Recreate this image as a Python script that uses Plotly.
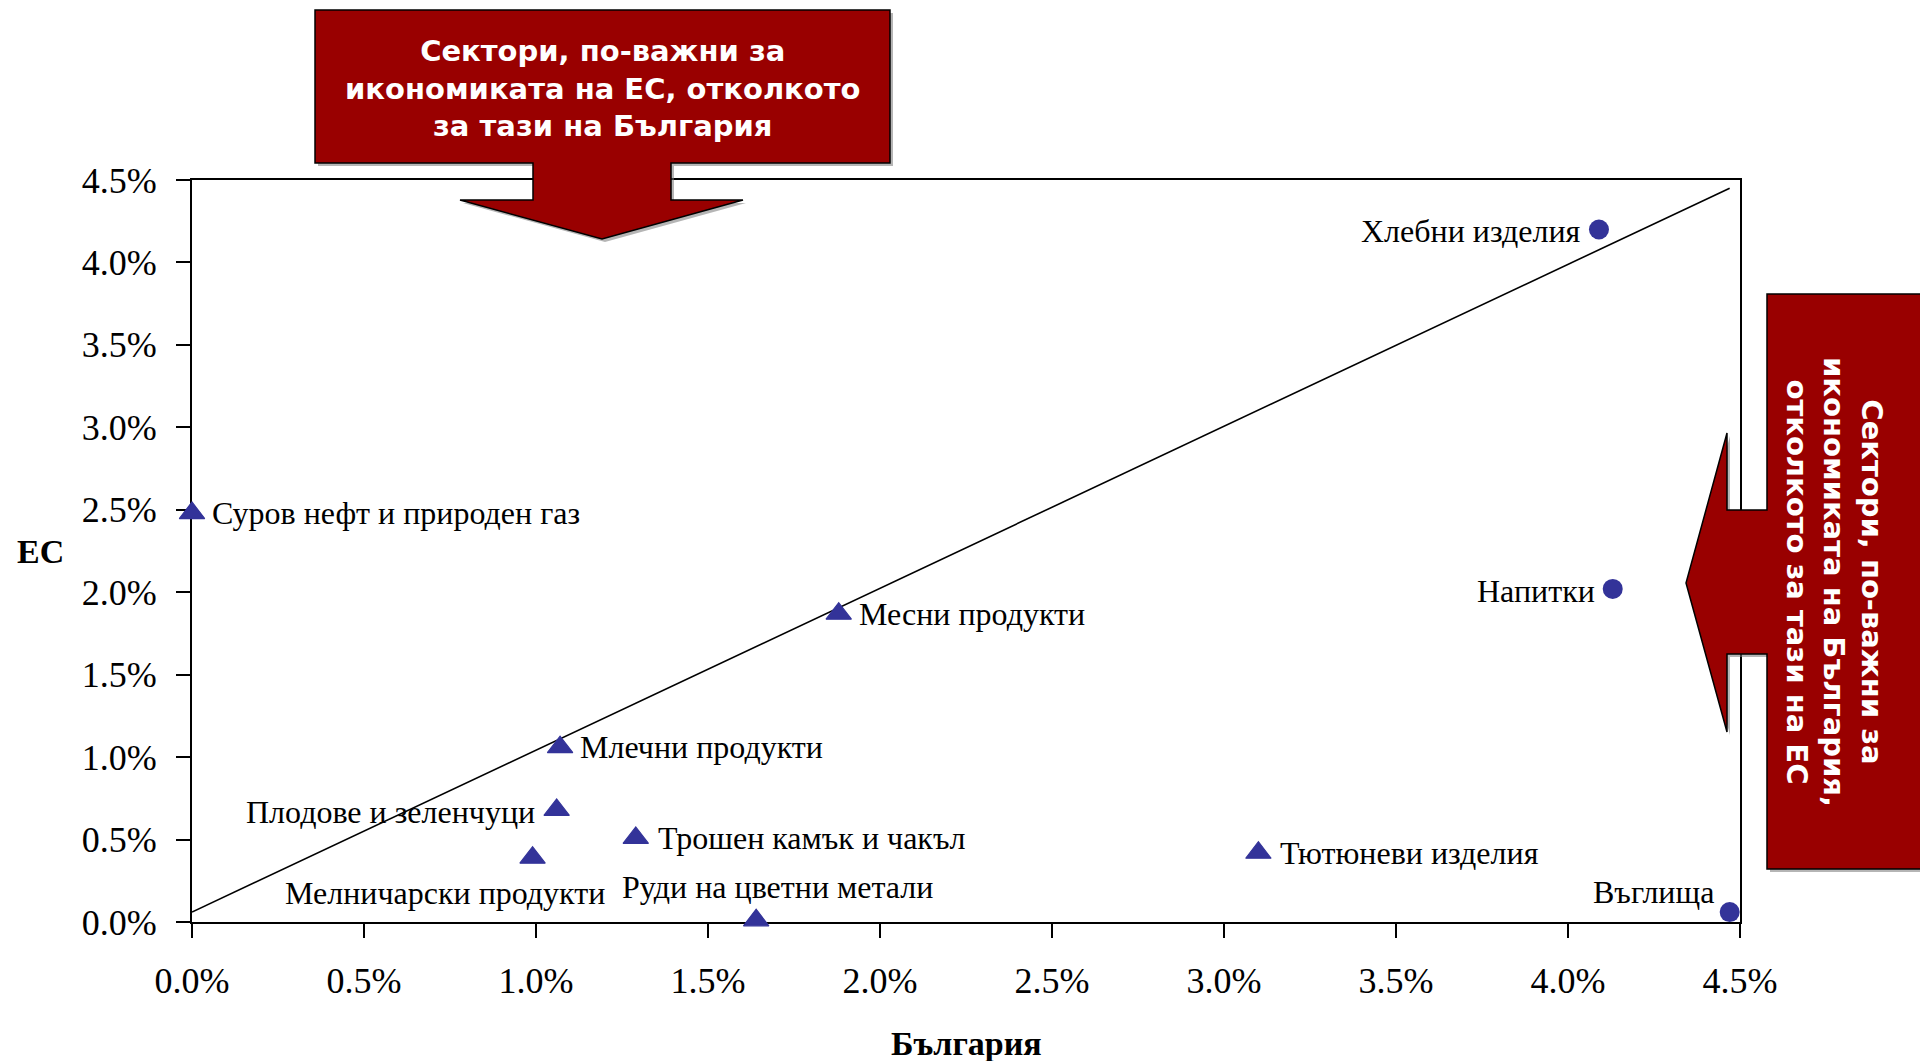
import plotly.graph_objects as go

# ---------------- data (values in %) ----------------
circle_names = ["Хлебни изделия", "Напитки", "Въглища"]
circle_bg = [4.09, 4.13, 4.47]
circle_eu = [4.20, 2.02, 0.06]

tri_names = ["Суров нефт и природен газ", "Месни продукти", "Млечни продукти",
             "Плодове и зеленчуци", "Мелничарски продукти", "Трошен камък и чакъл",
             "Руди на цветни метали", "Тютюневи изделия"]
tri_bg = [0.00, 1.88, 1.07, 1.06, 0.99, 1.29, 1.64, 3.10]
tri_eu = [2.48, 1.87, 1.06, 0.68, 0.39, 0.51, 0.01, 0.42]

line_bg = [0.0, 4.47]
line_eu = [0.06, 4.45]

tick_vals = [0.0, 0.5, 1.0, 1.5, 2.0, 2.5, 3.0, 3.5, 4.0, 4.5]
tick_text = ["0.0%", "0.5%", "1.0%", "1.5%", "2.0%", "2.5%", "3.0%", "3.5%", "4.0%", "4.5%"]

x_title = "България"
y_title = "ЕС"
top_callout = "Сектори, по-важни за<br>икономиката на ЕС, отколкото<br>за тази на България"
right_callout = "Сектори, по-важни за<br>икономиката на България,<br>отколкото за тази на ЕС"

# ---------------- layout geometry (pixels) ----------------
FIG_W, FIG_H = 1920, 1061
ML, MR, MT, MB = 192, 180, 180, 139
PW, PH = FIG_W - ML - MR, FIG_H - MT - MB

def fx(x):
    return (x - ML) / PW

def fy(y):
    return (FIG_H - MB - y) / PH

def path(points):
    return "M " + " L ".join(f"{fx(x):.5f},{fy(y):.5f}" for x, y in points) + " Z"

# label placement: (xanchor, yanchor, xshift, yshift)
label_pos = {
    "Хлебни изделия": ("right", "middle", -16, -2),
    "Напитки": ("right", "middle", -16, -2),
    "Въглища": ("right", "middle", -14, 20),
    "Суров нефт и природен газ": ("left", "middle", 18, 0),
    "Месни продукти": ("left", "middle", 18, 0),
    "Млечни продукти": ("left", "middle", 18, 0),
    "Плодове и зеленчуци": ("right", "middle", -20, -2),
    "Мелничарски продукти": ("right", "middle", 74, -35),
    "Трошен камък и чакъл": ("left", "middle", 20, 0),
    "Руди на цветни метали": ("center", "middle", 21, 33),
    "Тютюневи изделия": ("left", "middle", 20, 0),
}

MARK = "#333399"
SERIF = "Liberation Serif, Times New Roman, serif"
SANS = "DejaVu Sans, Verdana, sans-serif"

fig = go.Figure()
fig.add_trace(go.Scatter(x=line_bg, y=line_eu, mode="lines",
                         line=dict(color="black", width=1.6),
                         hoverinfo="skip", showlegend=False, cliponaxis=False))
fig.add_trace(go.Scatter(x=tri_bg, y=tri_eu, mode="markers",
                         marker=dict(symbol="triangle-up", size=22, color=MARK,
                                     line=dict(color=MARK, width=1.2)),
                         showlegend=False, cliponaxis=False, text=tri_names))
fig.add_trace(go.Scatter(x=circle_bg, y=circle_eu, mode="markers",
                         marker=dict(symbol="circle", size=20, color=MARK),
                         showlegend=False, cliponaxis=False, text=circle_names))

annotations = []
for names, xs, ys in ((circle_names, circle_bg, circle_eu), (tri_names, tri_bg, tri_eu)):
    for n, x, y in zip(names, xs, ys):
        xa, ya, dx, dy = label_pos[n]
        annotations.append(dict(x=x, y=y, xref="x", yref="y", text=n, showarrow=False,
                                xanchor=xa, yanchor=ya, xshift=dx, yshift=dy,
                                font=dict(family=SERIF, size=32, color="black")))

# axis titles
annotations.append(dict(x=0.5, y=fy(1043), xref="paper", yref="paper", text=f"<b>{x_title}</b>",
                        showarrow=False, xanchor="center", yanchor="middle",
                        font=dict(family=SERIF, size=34, color="black")))
annotations.append(dict(x=fx(40), y=0.5, xref="paper", yref="paper", text=f"<b>{y_title}</b>",
                        showarrow=False, xanchor="center", yanchor="middle",
                        font=dict(family=SERIF, size=34, color="black")))

# callout texts
annotations.append(dict(x=fx(602), y=fy(88), xref="paper", yref="paper", text=f"<b>{top_callout}</b>",
                        showarrow=False, xanchor="center", yanchor="middle", align="center",
                        font=dict(family=SANS, size=29, color="white")))
annotations.append(dict(x=fx(1835), y=fy(582), xref="paper", yref="paper", text=f"<b>{right_callout}</b>",
                        showarrow=False, xanchor="center", yanchor="middle", align="center",
                        textangle=90,
                        font=dict(family=SANS, size=29, color="white")))

top_pts = [(315, 10), (890, 10), (890, 163), (671, 163), (671, 200), (743, 200), (602, 239),
           (460, 200), (533, 200), (533, 163), (315, 163)]
right_pts = [(1767, 294), (1930, 294), (1930, 869), (1767, 869), (1767, 654), (1727, 654),
             (1727, 732), (1686, 583), (1727, 433), (1727, 510), (1767, 510)]

shapes = []
for pts in (top_pts, right_pts):
    shapes.append(dict(type="path", xref="paper", yref="paper",
                       path=path([(x + 3, y + 3) for x, y in pts]),
                       fillcolor="rgba(120,120,120,0.55)", line=dict(width=0), layer="above"))
    shapes.append(dict(type="path", xref="paper", yref="paper", path=path(pts),
                       fillcolor="#990000", line=dict(color="black", width=1.5), layer="above"))

axis_common = dict(range=[0, 4.5], tickvals=tick_vals, ticktext=tick_text,
                   showgrid=False, zeroline=False, showline=True, linecolor="black",
                   linewidth=2, mirror=True, ticks="outside", ticklen=14, tickwidth=1.5,
                   tickcolor="black", layer="below traces",
                   tickfont=dict(family=SERIF, size=36, color="black"))

fig.update_layout(
    width=FIG_W, height=FIG_H, autosize=False,
    margin=dict(l=ML, r=MR, t=MT, b=MB),
    paper_bgcolor="white", plot_bgcolor="white",
    xaxis=dict(**axis_common, ticklabelstandoff=12),
    yaxis=dict(**axis_common, ticklabelstandoff=12),
    annotations=annotations, shapes=shapes,
    showlegend=False,
)

fig.write_html("out.html", config={"displayModeBar": False},
               post_script="document.body.style.margin='0';document.body.style.overflow='hidden';")
